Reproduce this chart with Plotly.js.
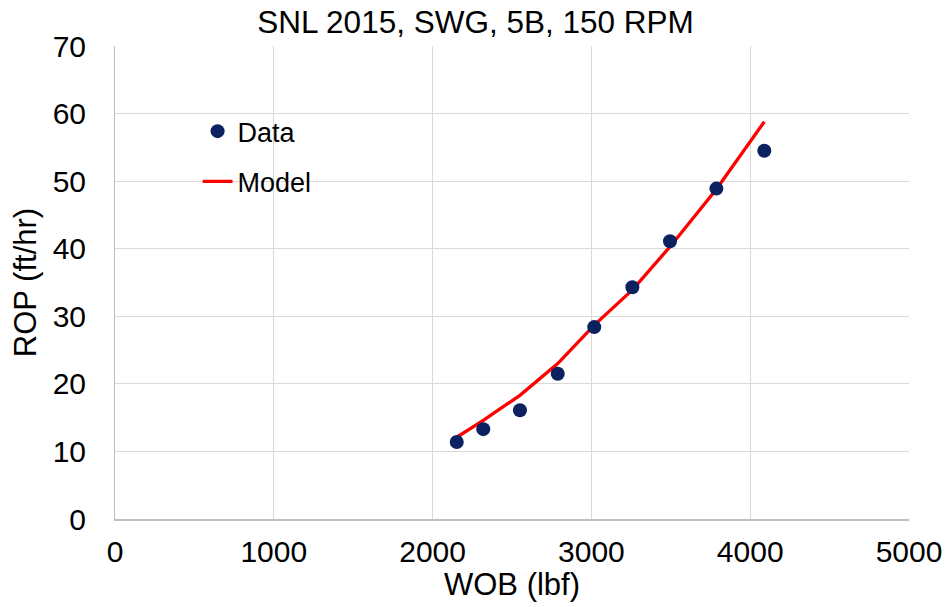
<!DOCTYPE html>
<html><head><meta charset="utf-8">
<script src="https://cdn.plot.ly/plotly-3.0.1.min.js"></script>
<style>html,body{margin:0;padding:0;background:#fff}#chart{width:951px;height:607px}</style>
</head><body><div id="chart"></div>
<script>
const wob = [2152, 2319, 2550, 2788, 3018, 3258, 3495, 3787, 4089];
const ropData = [11.4, 13.3, 16.1, 21.5, 28.4, 34.3, 41.1, 48.9, 54.5];
const ropModel = [12.1, 14.6, 18.3, 23.0, 28.7, 33.9, 40.3, 48.8, 58.8];
const xTicks = [0, 1000, 2000, 3000, 4000, 5000];
const yTicks = [0, 10, 20, 30, 40, 50, 60, 70];

const font = {family: 'Liberation Sans, Arial, sans-serif', color: '#000', size: 30};
const traces = [
  {x: wob, y: ropModel, mode: 'lines', name: 'Model', legend: 'legend2',
   line: {color: '#ff0000', width: 3.3}},
  {x: wob, y: ropData, mode: 'markers', name: 'Data', legend: 'legend',
   marker: {color: '#0b2160', size: 14}}
];
const layout = {
  width: 951, height: 607,
  margin: {l: 115, r: 42, t: 46, b: 88},
  paper_bgcolor: '#fff', plot_bgcolor: '#fff',
  font: font,
  title: {text: 'SNL 2015, SWG, 5B, 150 RPM', x: 0.5, xanchor: 'center', y: 0.963, yanchor: 'middle', font: {size: 31.5}},
  xaxis: {range: [0, 5000], tickvals: xTicks, ticktext: xTicks.map(String), showgrid: true, gridcolor: '#d9d9d9', gridwidth: 1,
    zeroline: false, showline: true, linecolor: '#bfbfbf', linewidth: 1.5, ticks: '', ticklabelstandoff: 5,
    tickfont: {size: 30},
    title: {text: 'WOB (lbf)', standoff: 3, font: {size: 31}}},
  yaxis: {range: [0, 70], tickvals: yTicks, ticktext: yTicks.map(String), showgrid: true, gridcolor: '#d9d9d9', gridwidth: 1,
    zeroline: false, showline: true, linecolor: '#bfbfbf', linewidth: 1, ticks: '', ticklabelstandoff: 22,
    tickfont: {size: 30},
    title: {text: 'ROP (ft/hr)', standoff: 6, font: {size: 31}}},
  legend: {x: 0.104, y: 0.819, xanchor: 'left', yanchor: 'middle', bgcolor: 'rgba(0,0,0,0)', font: {size: 27}},
  legend2: {x: 0.104, y: 0.713, xanchor: 'left', yanchor: 'middle', bgcolor: 'rgba(0,0,0,0)', font: {size: 27}},
  showlegend: true
};
Plotly.newPlot('chart', traces, layout, {displayModeBar: false, staticPlot: true});
</script></body></html>
